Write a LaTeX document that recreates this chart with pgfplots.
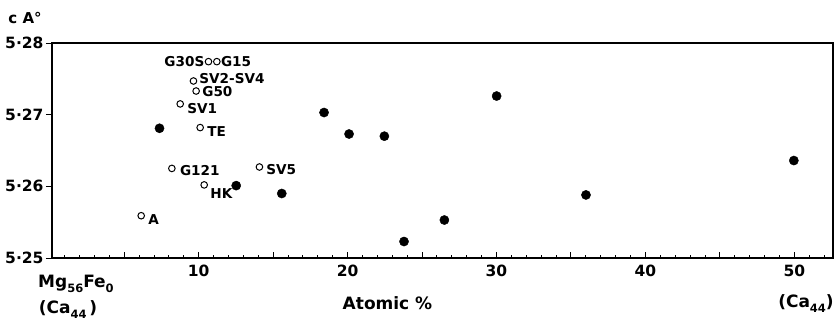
\documentclass[border=0pt]{standalone}
\usepackage{pgfplots}
\pgfplotsset{compat=1.18}
\usepackage{fontspec}
\setmainfont{DejaVu Sans}
\newcommand{\sub}[1]{\raisebox{-5pt}{\fontsize{11.5}{12}\selectfont #1}}
\tikzset{lbl/.style={font=\fontsize{13.6}{16}\selectfont\bfseries, inner sep=0pt}}
\begin{document}
\begin{tikzpicture}
\useasboundingbox (-52pt,-67pt) rectangle (788pt,258pt);
\begin{axis}[
  at={(0pt,0pt)}, anchor=south west,
  scale only axis, width=781pt, height=215pt,
  xmin=0.15, xmax=52.6, ymin=5.25, ymax=5.28,
  axis line style={line width=1.3pt},
  every tick/.style={black, line width=0.9pt},
  xtick={10,20,30,40,50},
  xticklabels={10,20,30,40,50},
  extra x ticks={5,15,25,35,45},
  extra x tick labels={},
  minor xtick={1,...,52},
  xtick pos=left, ytick pos=left,
  xtick align=inside, ytick align=outside,
  major tick length=6pt, minor tick length=3pt,
  ytick={5.25,5.26,5.27,5.28},
  yticklabels={5·25,5·26,5·27,5·28},
  ticklabel style={font=\fontsize{15.5}{18}\selectfont\bfseries},
  xticklabel style={yshift=-3pt},
  yticklabel style={xshift=1pt},
  clip=false,
]
\addplot[only marks, mark=*, mark size=4.6pt, black] coordinates {
  (7.37,5.2681) (12.52,5.2601) (15.58,5.2590) (18.42,5.2703)
  (20.10,5.2673) (22.47,5.2670) (23.79,5.2523) (26.50,5.2553)
  (30.01,5.2726) (36.01,5.2588) (49.97,5.2636)
};
\addplot[only marks, mark=o, mark size=3.3pt, mark options={line width=1pt}, black] coordinates {
  (10.66,5.2774) (11.22,5.2774) (9.65,5.2747) (9.83,5.2733)
  (8.76,5.2715) (10.10,5.2682) (8.20,5.2625) (14.08,5.2627)
  (10.37,5.2602) (6.14,5.2559)
};
\node[lbl, anchor=east, xshift=-4pt] at (axis cs:10.66,5.2774) {G30S};
\node[lbl, anchor=west, xshift=4pt] at (axis cs:11.22,5.2774) {G15};
\node[lbl, anchor=west, xshift=5.7pt, yshift=2.5pt] at (axis cs:9.65,5.2747) {SV2-SV4};
\node[lbl, anchor=west, xshift=6pt, yshift=-1pt] at (axis cs:9.83,5.2733) {G50};
\node[lbl, anchor=west, xshift=7pt, yshift=-4.5pt] at (axis cs:8.76,5.2715) {SV1};
\node[lbl, anchor=west, xshift=7pt, yshift=-3.7pt] at (axis cs:10.10,5.2682) {TE};
\node[lbl, anchor=west, xshift=8pt, yshift=-1.7pt] at (axis cs:8.20,5.2625) {G121};
\node[lbl, anchor=west, xshift=6.7pt, yshift=-2.3pt] at (axis cs:14.08,5.2627) {SV5};
\node[lbl, anchor=west, xshift=6pt, yshift=-9pt] at (axis cs:10.37,5.2602) {HK};
\node[lbl, anchor=west, xshift=7pt, yshift=-4.3pt] at (axis cs:6.14,5.2559) {A};
\end{axis}
\node[font=\fontsize{15}{17}\selectfont\bfseries] at (-27pt,240pt) {c A°};
\node[anchor=base west, inner sep=0pt, font=\fontsize{17}{20}\selectfont\bfseries] at (-14pt,-29pt) {Mg\sub{56}Fe\sub{0}};
\node[font=\fontsize{17}{20}\selectfont\bfseries] at (16pt,-52pt) {(Ca\sub{44}\,)};
\node[font=\fontsize{17}{19}\selectfont\bfseries] at (335.5pt,-45pt) {Atomic \%};
\node[font=\fontsize{17}{20}\selectfont\bfseries] at (754pt,-46pt) {(Ca\sub{44})};
\end{tikzpicture}
\end{document}
